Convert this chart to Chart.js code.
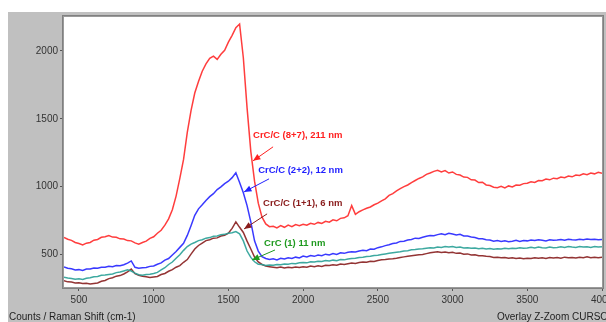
<!DOCTYPE html>
<html>
<head>
<meta charset="utf-8">
<script src="https://cdn.jsdelivr.net/npm/chart.js@4.4.1/dist/chart.umd.min.js"></script>
<style>
  html, body { margin: 0; padding: 0; background: #fff; overflow: hidden; }
  canvas { display: block; }
</style>
</head>
<body>
<canvas id="c" width="640" height="322"></canvas>
<script>
// Raman shift grid (cm-1), 25 cm-1 steps
const shifts = [
  400, 425, 450, 475, 500, 525, 550, 575, 600, 625, 650, 675, 700, 725, 750, 775,
  800, 825, 850, 875, 900, 925, 950, 975, 1000, 1025, 1050, 1075, 1100, 1125, 1150, 1175,
  1200, 1225, 1250, 1275, 1300, 1325, 1350, 1375, 1400, 1425, 1450, 1475, 1500, 1525, 1550, 1575,
  1600, 1625, 1650, 1675, 1700, 1725, 1750, 1775, 1800, 1825, 1850, 1875, 1900, 1925, 1950, 1975,
  2000, 2025, 2050, 2075, 2100, 2125, 2150, 2175, 2200, 2225, 2250, 2275, 2300, 2325, 2350, 2375,
  2400, 2425, 2450, 2475, 2500, 2525, 2550, 2575, 2600, 2625, 2650, 2675, 2700, 2725, 2750, 2775,
  2800, 2825, 2850, 2875, 2900, 2925, 2950, 2975, 3000, 3025, 3050, 3075, 3100, 3125, 3150, 3175,
  3200, 3225, 3250, 3275, 3300, 3325, 3350, 3375, 3400, 3425, 3450, 3475, 3500, 3525, 3550, 3575,
  3600, 3625, 3650, 3675, 3700, 3725, 3750, 3775, 3800, 3825, 3850, 3875, 3900, 3925, 3950, 3975,
  4000
];

// counts, CrC/C (8+7), 211 nm
const red87 = [
  625, 612, 604, 588, 580, 570, 583, 588,
  605, 610, 626, 630, 640, 628, 626, 615,
  614, 602, 600, 585, 576, 588, 598, 618,
  630, 656, 678, 716, 762, 830, 930, 1060,
  1200, 1400, 1560, 1690, 1775, 1850, 1905, 1945,
  1962, 1938, 1975, 2005, 2065, 2115, 2172, 2198,
  1950, 1580, 1260, 1040, 878, 775, 725, 705,
  708, 695, 712, 700, 716, 705, 720, 712,
  722, 715, 730, 722, 736, 728, 744, 738,
  755, 748, 766, 770, 785, 860, 795, 815,
  828, 840, 850, 866, 878, 895, 910, 935,
  948, 968, 985, 1000, 1012, 1030, 1045, 1060,
  1072, 1090, 1100, 1112, 1120, 1108, 1118, 1100,
  1108, 1090, 1085, 1070, 1068, 1050, 1048, 1030,
  1032, 1012, 1008, 995, 992, 1002, 990, 1005,
  998, 1012, 1010, 1022, 1025, 1035, 1030, 1045,
  1044, 1055, 1050, 1062, 1058, 1070, 1066, 1078,
  1072, 1085, 1082, 1095, 1088, 1100, 1094, 1105,
  1098
];

// CrC/C (2+2), 12 nm
const blue22 = [
  408, 398, 394, 385, 388, 382, 392, 393,
  400, 398, 406, 405, 412, 410, 418, 417,
  424, 436, 452, 405, 398, 402, 404, 412,
  415, 428, 438, 458, 470, 496, 522, 552,
  582, 640, 712, 788, 836, 866, 898, 926,
  948, 978, 998, 1022, 1040, 1066, 1102, 1030,
  955, 860, 740, 600, 525, 484, 470, 462,
  468, 460, 472, 466, 476, 470, 480, 474,
  488, 482, 492, 486, 496, 490, 502, 496,
  506, 500, 512, 508, 516, 520, 518, 526,
  530, 528, 540, 538, 550, 556, 565, 572,
  580, 585, 596, 598, 606, 610, 620, 618,
  626, 634, 640, 638, 646, 652, 645, 656,
  650, 644, 648, 636, 635, 628, 625, 616,
  615, 608, 606, 598, 602, 596, 600, 594,
  598, 604, 596, 602, 600, 606, 602, 608,
  605, 600, 608, 604, 606, 610, 604, 612,
  608, 606, 612, 608, 614, 610, 612, 608,
  610
];

// CrC (1), 11 nm
const teal1 = [
  332, 326, 323, 318, 320, 316, 325, 328,
  336, 338, 346, 348, 352, 356, 366, 370,
  378, 386, 378, 362, 350, 346, 352, 354,
  360, 368, 386, 402, 426, 444, 472, 498,
  530, 558, 576, 588, 602, 608, 620, 624,
  634, 636, 646, 648, 656, 660, 668, 652,
  600, 525, 478, 446, 428, 425, 418, 422,
  420, 426, 424, 430, 428, 434, 432, 438,
  440, 438, 446, 444, 450, 448, 455, 452,
  458, 454, 462, 460, 466, 470, 472, 478,
  480, 484, 486, 492, 494, 500, 504, 508,
  512, 516, 520, 526, 528, 534, 536, 540,
  542, 546, 550, 548, 555, 552, 558, 554,
  558, 552, 554, 548, 550, 545, 548, 542,
  546, 540, 544, 538, 542, 540, 546, 542,
  546, 544, 550, 546, 548, 552, 548, 554,
  550, 548, 554, 550, 552, 556, 552, 558,
  554, 552, 558, 554, 556, 552, 558, 554,
  557
];

// CrC/C (1+1), 6 nm
const brown11 = [
  307, 298, 296, 290, 292, 286, 287, 282,
  286, 290, 302, 308, 322, 328, 340, 344,
  356, 372, 392, 358, 346, 340, 336, 330,
  334, 338, 352, 360, 376, 388, 406, 418,
  442, 462, 502, 540, 566, 584, 602, 608,
  620, 622, 636, 642, 656, 692, 740, 700,
  662, 598, 540, 480, 445, 426, 414, 410,
  406, 402, 408, 400, 406, 402, 408, 404,
  410, 406, 414, 410, 416, 412, 420, 418,
  424, 420, 430, 426, 432, 436, 434, 440,
  444, 442, 450, 448, 455, 460, 462, 466,
  468, 472, 478, 482, 486, 490, 494, 498,
  500, 506, 512, 516, 520, 514, 518, 512,
  516, 508, 510, 502, 504, 496, 498, 490,
  490, 486, 484, 478, 480, 476, 478, 472,
  476, 470, 474, 468, 472, 470, 476, 472,
  475, 470, 478, 474, 478, 472, 480, 476,
  478, 474, 480, 476, 482, 476, 480, 476,
  480
];

const xTicks = [500, 1000, 1500, 2000, 2500, 3000, 3500, 4000];
const yTicks = [500, 1000, 1500, 2000];

// callout labels: text anchor and arrow (tail -> head) in data units
const callouts = [
  {text: 'CrC/C (8+7), 211 nm', color: '#ff2020', at: [1665, 1381], from: [1799, 1293], to: [1665, 1190]},
  {text: 'CrC/C (2+2), 12 nm', color: '#2222ff', at: [1699, 1116], from: [1772, 1057], to: [1605, 961]},
  {text: 'CrC/C (1+1), 6 nm', color: '#8a1c1c', at: [1732, 880], from: [1759, 799], to: [1605, 688]},
  {text: 'CrC (1) 11 nm', color: '#1f9a1f', at: [1739, 585], from: [1812, 533], to: [1658, 459]}
];

const toPoints = (vals) => vals.map((v, i) => ({x: shifts[i], y: v}));

const panelPlugin = {
  id: 'panel',
  beforeDraw(chart) {
    const {ctx, chartArea: a, width, height} = chart;
    ctx.save();
    ctx.fillStyle = '#ffffff';
    ctx.fillRect(0, 0, width, height);
    ctx.fillStyle = '#c0c0c0';
    ctx.fillRect(8, 12, width - 8, height - 12);
    ctx.fillStyle = '#ffffff';
    ctx.fillRect(a.left, a.top, a.right - a.left, a.bottom - a.top);
    ctx.restore();
  },
  afterDraw(chart) {
    const {ctx, chartArea: a, scales} = chart;
    ctx.save();
    // sunken frame
    ctx.lineWidth = 1;
    ctx.strokeStyle = '#808080';
    ctx.strokeRect(a.left - 1.5, a.top - 1.5, a.right - a.left + 3, a.bottom - a.top + 3);
    ctx.strokeStyle = '#9a9a9a';
    ctx.strokeRect(a.left - 0.5, a.top - 0.5, a.right - a.left + 1, a.bottom - a.top + 1);

    // footer texts
    ctx.fillStyle = '#222';
    ctx.font = '10px "Liberation Sans", Arial, sans-serif';
    ctx.textBaseline = 'middle';
    ctx.textAlign = 'left';
    ctx.fillText('Counts / Raman Shift (cm-1)', 9, 317);
    ctx.fillText('Overlay Z-Zoom CURSOR', 497, 317);

    // callouts
    ctx.font = 'bold 9.5px "Liberation Sans", Arial, sans-serif';
    callouts.forEach(c => {
      const px = v => scales.x.getPixelForValue(v);
      const py = v => scales.y.getPixelForValue(v);
      ctx.fillStyle = c.color;
      ctx.strokeStyle = c.color;
      ctx.textAlign = 'left';
      ctx.textBaseline = 'middle';
      ctx.fillText(c.text, px(c.at[0]), py(c.at[1]));
      const x1 = px(c.from[0]), y1 = py(c.from[1]);
      const x2 = px(c.to[0]), y2 = py(c.to[1]);
      ctx.lineWidth = 1;
      ctx.beginPath();
      ctx.moveTo(x1, y1);
      ctx.lineTo(x2, y2);
      ctx.stroke();
      const ang = Math.atan2(y2 - y1, x2 - x1);
      ctx.beginPath();
      ctx.moveTo(x2, y2);
      ctx.lineTo(x2 - 8 * Math.cos(ang - 0.4), y2 - 8 * Math.sin(ang - 0.4));
      ctx.lineTo(x2 - 8 * Math.cos(ang + 0.4), y2 - 8 * Math.sin(ang + 0.4));
      ctx.closePath();
      ctx.fill();
    });
    ctx.restore();
  }
};

const line = (data, color) => ({
  data: toPoints(data),
  borderColor: color,
  borderWidth: 1.5,
  pointRadius: 0,
  tension: 0,
  fill: false
});

const tickFont = {family: '"Liberation Sans", Arial, sans-serif', size: 10};
const plain = v => String(v);

new Chart(document.getElementById('c'), {
  type: 'line',
  data: {
    datasets: [
      line(red87, 'rgba(255,40,40,0.9)'),
      line(blue22, 'rgba(35,35,255,0.9)'),
      line(teal1, 'rgba(40,160,150,0.9)'),
      line(brown11, 'rgba(135,30,30,0.9)')
    ]
  },
  options: {
    responsive: false,
    animation: false,
    layout: {padding: {left: 0, top: 17, right: 38, bottom: 0}},
    plugins: {legend: {display: false}, tooltip: {enabled: false}},
    scales: {
      x: {
        type: 'linear',
        min: 400,
        max: 4000,
        afterFit: s => { s.height = 35; },
        afterBuildTicks: s => { s.ticks = xTicks.map(v => ({value: v})); },
        grid: {drawOnChartArea: false, tickLength: 4, color: '#555'},
        border: {display: false},
        ticks: {font: tickFont, color: '#333', padding: 3, maxRotation: 0, callback: plain}
      },
      y: {
        min: 260,
        max: 2250,
        afterFit: s => { s.width = 64; },
        afterBuildTicks: s => { s.ticks = yTicks.map(v => ({value: v})); },
        grid: {drawOnChartArea: false, tickLength: 4, color: '#555'},
        border: {display: false},
        ticks: {font: tickFont, color: '#333', padding: 2, callback: plain}
      }
    }
  },
  plugins: [panelPlugin]
});
</script>
</body>
</html>
